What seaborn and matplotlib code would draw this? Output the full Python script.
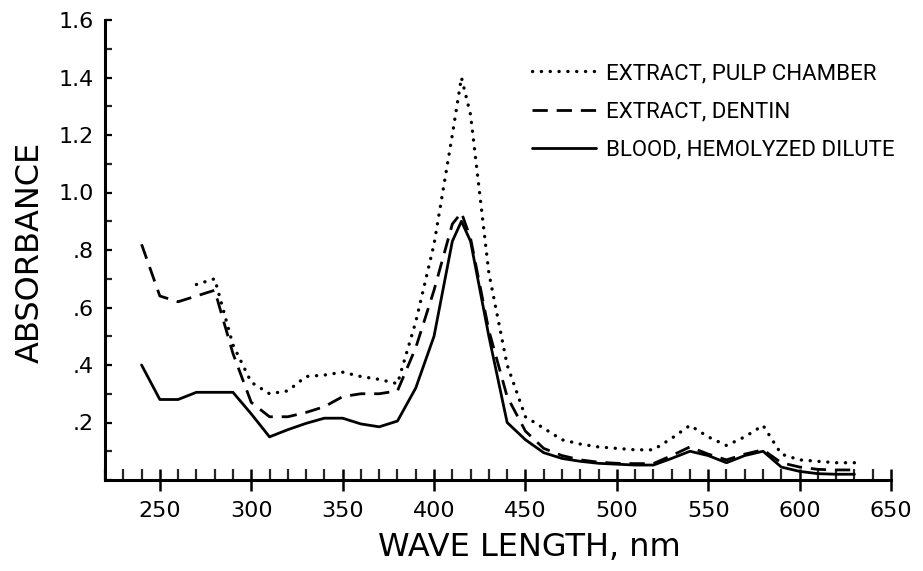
import numpy as np
import pandas as pd
import matplotlib
matplotlib.use("Agg")
import matplotlib.pyplot as plt
import seaborn as sns
from matplotlib.ticker import MultipleLocator, FixedLocator

# ---- data ----
wavelength = [240, 250, 260, 270, 280, 290, 300, 310, 320, 330, 340, 350, 360, 370,
              380, 390, 400, 410, 415, 420, 430, 440, 450, 460, 470, 480, 490, 500,
              510, 520, 530, 540, 550, 560, 570, 580, 590, 600, 610, 620, 630]

pulp_chamber = [np.nan, np.nan, np.nan, 0.68, 0.70, 0.47, 0.34, 0.30, 0.31, 0.36, 0.365,
                0.375, 0.36, 0.35, 0.335, 0.55, 0.82, 1.20, 1.40, 1.27, 0.72, 0.40,
                0.22, 0.18, 0.14, 0.125, 0.115, 0.11, 0.105, 0.105, 0.145, 0.19, 0.15,
                0.12, 0.15, 0.19, 0.09, 0.07, 0.065, 0.06, 0.06]

dentin = [0.82, 0.64, 0.62, 0.64, 0.66, 0.44, 0.27, 0.22, 0.22, 0.235, 0.255, 0.29,
          0.30, 0.30, 0.31, 0.46, 0.66, 0.89, 0.93, 0.84, 0.52, 0.29, 0.17, 0.11,
          0.085, 0.07, 0.062, 0.058, 0.057, 0.057, 0.085, 0.115, 0.09, 0.07, 0.09,
          0.105, 0.06, 0.045, 0.037, 0.035, 0.035]

blood = [0.40, 0.28, 0.28, 0.305, 0.305, 0.305, 0.23, 0.15, 0.175, 0.197, 0.215, 0.215,
         0.195, 0.185, 0.205, 0.32, 0.50, 0.83, 0.90, 0.83, 0.50, 0.20, 0.14, 0.095,
         0.075, 0.065, 0.058, 0.055, 0.052, 0.052, 0.075, 0.10, 0.085, 0.06, 0.085,
         0.10, 0.045, 0.03, 0.022, 0.02, 0.02]

series_labels = ["EXTRACT, PULP CHAMBER", "EXTRACT, DENTIN", "BLOOD, HEMOLYZED DILUTE"]
x_ticks = [250, 300, 350, 400, 450, 500, 550, 600, 650]
y_ticks = [0.2, 0.4, 0.6, 0.8, 1.0, 1.2, 1.4, 1.6]
y_tick_labels = [".2", ".4", ".6", ".8", "1.0", "1.2", "1.4", "1.6"]

df = pd.DataFrame({
    "wavelength": wavelength * 3,
    "absorbance": pulp_chamber + dentin + blood,
    "series": [series_labels[0]] * len(wavelength) + [series_labels[1]] * len(wavelength)
              + [series_labels[2]] * len(wavelength),
})

sns.set_style("white")
plt.rcParams["font.family"] = ["DejaVu Sans"]
plt.rcParams["text.color"] = "black"
plt.rcParams["axes.labelcolor"] = "black"

W, H = 923, 571
fig = plt.figure(figsize=(W / 100, H / 100), dpi=100)
ax = fig.add_axes([105 / W, (H - 480) / H, (891 - 105) / W, 460 / H])

styles = {
    series_labels[0]: dict(linestyle=(0, (0.05, 2.6)), dash_capstyle="round", linewidth=2.4),
    series_labels[1]: dict(linestyle=(0, (5.5, 3.2)), linewidth=2.0),
    series_labels[2]: dict(linestyle="-", linewidth=2.0),
}
for lab in series_labels:
    sub = df[df["series"] == lab].dropna()
    sns.lineplot(data=sub, x="wavelength", y="absorbance", ax=ax, color="black",
                 label=lab, **styles[lab])

ax.set_xlim(220, 650)
ax.set_ylim(0, 1.6)
ax.xaxis.set_major_locator(FixedLocator(x_ticks))
ax.xaxis.set_minor_locator(MultipleLocator(10))
ax.yaxis.set_major_locator(FixedLocator(y_ticks))
ax.yaxis.set_minor_locator(MultipleLocator(0.1))
ax.set_yticklabels(y_tick_labels)

for s in ["top", "right"]:
    ax.spines[s].set_visible(False)
for s in ["left", "bottom"]:
    ax.spines[s].set_linewidth(2.2)
    ax.spines[s].set_color("black")

ax.tick_params(axis="x", which="major", direction="inout", length=16, width=1.8,
               pad=7, labelsize=16, colors="black", bottom=True)
ax.tick_params(axis="x", which="minor", direction="in", length=8, width=1.6, bottom=True)
ax.tick_params(axis="y", which="major", direction="in", length=5, width=1.6,
               pad=8, labelsize=16, colors="black", left=True)
ax.tick_params(axis="y", which="minor", direction="in", length=5, width=1.6, left=True)

ax.set_xlabel("")
ax.set_ylabel("")
fig.text(529 / W, 1 - 548 / H, "WAVE LENGTH, nm", ha="center", va="center", fontsize=23,
         color="black")
fig.text(30 / W, 1 - 252 / H, "ABSORBANCE", ha="center", va="center", rotation=90,
         fontsize=23, color="black")

leg = ax.legend(loc="upper left", bbox_to_anchor=(532 / W, 1 - 63 / H),
                bbox_transform=fig.transFigure, frameon=False, borderpad=0,
                borderaxespad=0, handlelength=2.9, handletextpad=0.45,
                labelspacing=0.78,
                prop={"family": ["Roboto", "DejaVu Sans"], "size": 16})
for t in leg.get_texts():
    t.set_color("black")

fig.savefig("out.png", dpi=100, facecolor="white")
